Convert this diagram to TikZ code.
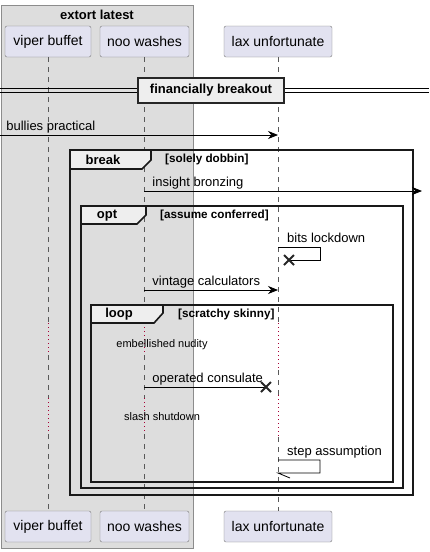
\documentclass[tikz,border=0pt]{standalone}
\usepackage{fontspec}
\setmainfont{Liberation Sans}
\usepackage{tikz}
\usetikzlibrary{arrows.meta}
\definecolor{partfill}{RGB}{226,226,240}
\definecolor{partborder}{RGB}{120,120,120}
\definecolor{groupfill}{RGB}{221,221,221}
\definecolor{tabfill}{RGB}{238,238,238}
\definecolor{delayred}{RGB}{168,0,54}

\begin{document}
\begin{tikzpicture}[
    x=1pt, y=-1pt,
    participant/.style={
        draw=partborder,
        fill=partfill,
        rounded corners=2pt,
        minimum height=31pt,
        inner sep=0pt,
        font=\fontsize{14}{16}\selectfont
    },
    lifeline/.style={draw=black!65, dash pattern=on 5pt off 5pt, line width=0.6pt},
    delay/.style={draw=delayred, dash pattern=on 1.2pt off 2.8pt, line width=1pt},
    msg/.style={-{Stealth[length=10pt,width=8pt]}, line width=0.8pt},
    lbl/.style={font=\fontsize{13}{15}\selectfont, inner sep=0pt, anchor=base west},
    small/.style={font=\fontsize{11}{13}\selectfont, inner sep=0pt},
    frame/.style={draw=black!90, line width=1.6pt},
    tab/.style={draw=black!90, fill=tabfill, line width=1.6pt},
    kind/.style={font=\fontsize{13}{15}\selectfont\bfseries, inner sep=0pt},
    cond/.style={font=\fontsize{11.7}{13}\selectfont\bfseries, inner sep=0pt, anchor=west},
    cross/.style={line width=2pt, draw=black!85}
]
\useasboundingbox (0,0) rectangle (429,552);

% group
\draw[draw=black!45, fill=groupfill] (1,5) rectangle (193,548);
\node[kind] (grp) at (97,15) {extort latest};

% participants
\node[participant, minimum width=86pt] (vb) at (48,41.5) {viper buffet};
\node[participant, minimum width=89pt] (nw) at (144.5,41.5) {noo washes};
\node[participant, minimum width=108pt] (lu) at (278,41.5) {lax unfortunate};
\node[participant, minimum width=86pt] (vb2) at (48,526.5) {viper buffet};
\node[participant, minimum width=89pt] (nw2) at (144.5,526.5) {noo washes};
\node[participant, minimum width=108pt] (lu2) at (278,526.5) {lax unfortunate};

% lifelines with delays
\foreach \p/\a/\b/\c/\d in {vb/323/355/398/434, nw/323/355/398/434, lu/323/370/395/437} {
    \draw[lifeline] (\p.south) -- (\p.south |- 0,\a);
    \draw[delay] (\p.south |- 0,\a) -- (\p.south |- 0,\b);
    \draw[lifeline] (\p.south |- 0,\b) -- (\p.south |- 0,\c);
    \draw[delay] (\p.south |- 0,\c) -- (\p.south |- 0,\d);
    \draw[lifeline] (\p.south |- 0,\d) -- (\p2.north);
}

% divider
\draw[line width=0.8pt] (0,88.5) -- (429,88.5);
\draw[line width=0.8pt] (0,92) -- (429,92);
\node[draw=black!85, fill=tabfill, line width=1.5pt, minimum width=146pt, minimum height=25pt,
      inner sep=0pt, font=\fontsize{13}{15}\selectfont\bfseries] (div) at (211,90.5) {financially breakout};

% frames
\draw[frame] (70,150) rectangle (413,495);
\draw[tab] (70,150) -- (151,150) -- (151,160) -- (142,169) -- (70,169) -- cycle;
\node[kind] (brk) at (103,159.5) {break};
\node[cond] (brkc) at (165,159.5) {[solely dobbin]};

\draw[frame] (81,206) rectangle (403,488);
\draw[tab] (81,206) -- (146,206) -- (146,215) -- (137,224) -- (81,224) -- cycle;
\node[kind] (opt) at (107,215.5) {opt};
\node[cond] (optc) at (160,215) {[assume conferred]};

\draw[frame] (91,305) rectangle (393,482);
\draw[tab] (91,305) -- (163,305) -- (163,313) -- (154,323) -- (91,323) -- cycle;
\node[kind] (lp) at (119,314.5) {loop};
\node[cond] (lpc) at (178,314) {[scratchy skinny]};

% messages
\coordinate (m1s) at (0,135);
\coordinate (m1e) at (278,135);
\draw[msg] (m1s) -- (m1e) node[lbl, pos=0, xshift=6pt, yshift=5pt] {bullies practical};

\coordinate (m2s) at (144,191);
\coordinate (m2e) at (422,191);
\draw[msg] (m2s) -- (m2e) node[lbl, pos=0, xshift=8pt, yshift=5pt] {insight bronzing};

\coordinate (m3s) at (278,247);
\coordinate (x1) at (289,260);
\draw[line width=0.8pt] (m3s) -- (320,247) -- (320,260) -- (x1);
\node[lbl] (m3l) at (287,242) {bits lockdown};
\draw[cross] (x1) ++(-5,-5) -- ++(10,10) (x1) ++(-5,5) -- ++(10,-10);

\coordinate (m4s) at (144,290);
\coordinate (m4e) at (278,290);
\draw[msg] (m4s) -- (m4e) node[lbl, pos=0, xshift=8pt, yshift=5pt] {vintage calculators};

\node[small] (d1) at (162,345) {embellished nudity};

\coordinate (m5s) at (144,387);
\coordinate (x2) at (266,387);
\draw[line width=0.8pt] (m5s) -- (x2) node[lbl, pos=0, xshift=8pt, yshift=5pt] {operated consulate};
\draw[cross] (x2) ++(-5,-5) -- ++(10,10) (x2) ++(-5,5) -- ++(10,-10);

\node[small] (d2) at (162,417) {slash shutdown};

\coordinate (m6s) at (278,460);
\coordinate (m6e) at (278,473);
\draw[line width=0.8pt] (m6s) -- (320,460) -- (320,473) -- (m6e) -- ++(12,5);
\node[lbl] (m6l) at (287,455) {step assumption};

\end{tikzpicture}
\end{document}
